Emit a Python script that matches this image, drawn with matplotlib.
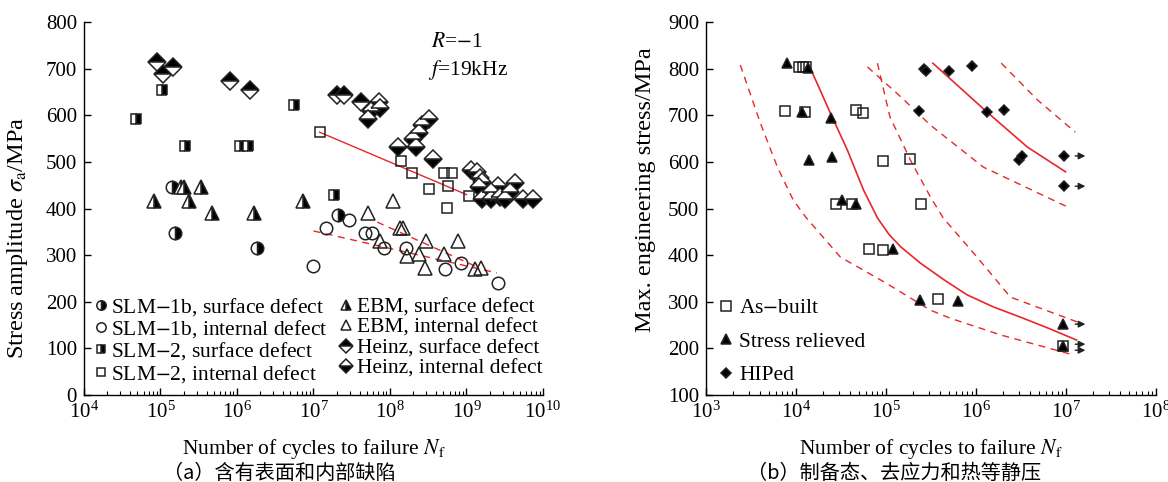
import numpy as np
import matplotlib.pyplot as plt
from matplotlib.ticker import LogLocator, NullFormatter, FixedLocator

plt.rcParams['font.family'] = ['Liberation Serif', 'Noto Sans CJK SC']
plt.rcParams['mathtext.fontset'] = 'stix'

# (a) dane - liczba cykli i amplituda naprężenia [MPa]
slm1b_surf_N = [1.4e5, 1.55e5, 1.85e6, 2.1e7]
slm1b_surf_S = [446, 348, 315, 386]
slm1b_int_N = [1.0e7, 1.45e7, 2.9e7, 4.7e7, 5.9e7, 8.3e7, 1.6e8, 5.2e8, 8.5e8, 2.6e9]
slm1b_int_S = [277, 358, 375, 347, 347, 315, 315, 270, 283, 240]
slm2_surf_N = [4.8e4, 1.05e5, 2.1e5, 1.1e6, 1.4e6, 5.6e6, 1.85e7]
slm2_surf_S = [592, 654, 535, 535, 535, 622, 429]
slm2_int_N = [1.2e7, 1.4e8, 1.95e8, 5.1e8, 6.5e8, 3.2e8, 5.8e8, 1.07e9, 5.6e8]
slm2_int_S = [564, 502, 476, 476, 476, 442, 448, 427, 401]
ebm_surf_N = [8.3e4, 1.85e5, 2.05e5, 3.4e5, 2.35e5, 4.7e5, 1.65e6, 7.2e6]
ebm_surf_S = [416, 446, 446, 446, 416, 390, 390, 416]
ebm_int_N = [1.1e8, 5.1e7, 1.35e8, 1.5e8, 7.4e7, 1.65e8, 2.95e8, 2.4e8, 2.9e8, 5.1e8, 7.8e8, 1.3e9, 1.55e9]
ebm_int_S = [416, 390, 358, 358, 330, 298, 330, 302, 272, 302, 330, 270, 272]
heinz_surf_N = [8.9e4, 1.07e5, 1.45e5, 8.1e5, 1.5e6, 2.05e7, 2.5e7, 4.2e7]
heinz_surf_S = [715, 689, 704, 674, 654, 644, 644, 629]
heinz_int_N = [7.2e7, 5.6e7, 7.4e7, 5.1e7, 1.26e8, 2.2e8, 2.0e8, 2.4e8, 2.6e8, 3.2e8, 3.6e8,
               1.15e9, 1.38e9, 1.5e9, 1.6e9, 1.45e9, 1.6e9, 2.1e9, 2.6e9, 2.1e9, 2.75e9,
               3.2e9, 3.7e9, 4.3e9, 5.4e9, 7.4e9]
heinz_int_S = [629, 609, 615, 592, 532, 532, 549, 562, 579, 592, 506,
               483, 479, 466, 457, 446, 421, 421, 448, 436, 425,
               421, 436, 455, 421, 421]
# linie trendu
fit_solid_N = [1.2e7, 1.0e9]
fit_solid_S = [564, 430]
fit_dash1_N = [1.0e7, 2.5e9]
fit_dash1_S = [352, 262]
fit_dash2_N = [6.8e7, 1.5e9]
fit_dash2_S = [371, 272]

# (b) dane
asb_N = [1.07e4, 1.2e4, 1.29e4, 7.6e3, 1.26e4, 4.6e4, 5.5e4, 9.3e4, 1.86e5, 2.75e4, 4.2e4,
         2.45e5, 6.5e4, 9.3e4, 3.8e5, 9.3e6]
asb_S = [804, 804, 804, 709, 707, 712, 705, 602, 607, 510, 510, 510, 413, 411, 306, 205]
sr_N = [7.9e3, 1.35e4, 1.17e4, 2.45e4, 1.38e4, 2.5e4, 3.2e4, 4.6e4, 1.2e5, 2.4e5, 6.3e5, 9.3e6, 9.3e6]
sr_S = [812, 802, 707, 694, 604, 611, 518, 510, 413, 304, 302, 252, 205]
hip_N = [2.6e5, 2.8e5, 5.0e5, 8.9e5, 2.3e5, 1.32e6, 2.05e6, 3.0e6, 3.2e6, 9.5e6, 9.5e6]
hip_S = [800, 796, 796, 806, 709, 707, 712, 604, 613, 613, 548]
runout_S = [613, 548, 252, 209, 196]
runout_N0, runout_N1 = 1.17e7, 1.75e7

as_mean_N = [1.35e4, 1.7e4, 2.4e4, 3.7e4, 5.6e4, 8.0e4, 1.07e5, 1.45e5, 2.4e5, 4.4e5, 7.9e5,
             1.55e6, 3.1e6, 6.2e6, 1.3e7]
as_mean_S = [812, 770, 705, 626, 540, 480, 445, 418, 383, 347, 315, 289, 267, 244, 218]
as_lo_N = [2.4e3, 4.0e3, 6.2e3, 9.3e3, 1.3e4, 3.1e4, 1.0e5, 3.1e5, 5.1e5, 1.86e6, 1.2e7]
as_lo_S = [808, 684, 589, 518, 480, 396, 340, 282, 265, 229, 186]
as_hi_N = [8.0e4, 1.1e5, 1.86e5, 3.1e5, 4.3e5, 1.02e6, 2.4e6, 1.45e7]
as_hi_S = [812, 697, 604, 525, 480, 396, 310, 254]
hip_mean_N = [3.3e5, 1.32e6, 3.7e6, 9.8e6]
hip_mean_S = [812, 707, 632, 579]
hip_hi_N = [1.9e6, 4.8e6, 1.26e7]
hip_hi_S = [812, 733, 664]
hip_lo_N = [6.2e4, 1.45e5, 3.1e5, 1.2e6, 1.1e7]
hip_lo_S = [804, 740, 679, 589, 501]

red = '#e8262b'
ec = '#222222'
fs_tick = 15
fs_lab = 15.5
fs_ylab = 17.5
fs_leg = 15.5

fig = plt.figure(figsize=(11.68, 4.82), dpi=100)
ax1 = fig.add_axes([0.0719, 0.1805, 0.393, 0.7735])
ax2 = fig.add_axes([0.6045, 0.1805, 0.3855, 0.7735])


def styl(ax, xlo, xhi, ylo, yhi, ystep):
    ax.set_xscale('log')
    ax.set_xlim(xlo, xhi)
    ax.set_ylim(ylo, yhi)
    ax.spines['top'].set_visible(False)
    ax.spines['right'].set_visible(False)
    ax.xaxis.set_major_locator(LogLocator(base=10, numticks=20))
    ax.xaxis.set_minor_locator(LogLocator(base=10, subs=np.arange(2, 10), numticks=20))
    ax.xaxis.set_minor_formatter(NullFormatter())
    ax.yaxis.set_major_locator(FixedLocator(np.arange(ylo, yhi + 1, ystep)))
    ax.tick_params(which='major', direction='in', length=5, width=1, labelsize=fs_tick, pad=5)
    ax.tick_params(which='minor', direction='in', length=3, width=0.8)
    for s in ax.spines.values():
        s.set_linewidth(1)


styl(ax1, 1e4, 1e10, 0, 800, 100)
styl(ax2, 1e3, 1e8, 100, 900, 100)

mk = dict(linestyle='none', markeredgecolor=ec, markeredgewidth=1.1,
          markerfacecolor='black', markerfacecoloralt='white')

ax1.plot(fit_solid_N, fit_solid_S, color=red, lw=1)
ax1.plot(fit_dash1_N, fit_dash1_S, color=red, lw=1, dashes=(5, 4))
ax1.plot(fit_dash2_N, fit_dash2_S, color=red, lw=1, dashes=(5, 4))

ax1.plot(slm1b_surf_N, slm1b_surf_S, marker='o', ms=9, fillstyle='right', label='SLM$-$1b, surface defect', **mk)
ax1.plot(slm1b_int_N, slm1b_int_S, marker='o', ms=9, fillstyle='none', label='SLM$-$1b, internal defect', **mk)
ax1.plot(slm2_surf_N, slm2_surf_S, marker='s', ms=7.5, fillstyle='right', label='SLM$-$2, surface defect', **mk)
ax1.plot(slm2_int_N, slm2_int_S, marker='s', ms=7.5, fillstyle='none', label='SLM$-$2, internal defect', **mk)
ax1.plot(ebm_surf_N, ebm_surf_S, marker='^', ms=9.5, fillstyle='right', label='EBM, surface defect', **mk)
ax1.plot(ebm_int_N, ebm_int_S, marker='^', ms=9.5, fillstyle='none', label='EBM, internal defect', **mk)
ax1.plot(heinz_surf_N, heinz_surf_S, marker='D', ms=9, fillstyle='top', label='Heinz, surface defect', **mk)
ax1.plot(heinz_int_N, heinz_int_S, marker='D', ms=9, fillstyle='bottom', label='Heinz, internal defect', **mk)

ax1.legend(loc='lower left', bbox_to_anchor=(-0.013, -0.013), ncol=2, frameon=False, fontsize=fs_leg,
           handlelength=0.7, handletextpad=0.15, columnspacing=0.5, labelspacing=0.02,
           borderaxespad=0.3, markerscale=0.75)

ax1.text(0.757, 0.933, '$\\mathit{R}$=$-$1', transform=ax1.transAxes, fontsize=fs_lab)
ax1.text(0.75, 0.858, '$\\mathit{f}$=19kHz', transform=ax1.transAxes, fontsize=fs_lab)

ax1.set_xlabel('Number of cycles to failure $\\mathit{N}_\\mathrm{f}$', fontsize=fs_lab, labelpad=10)
ax1.set_ylabel('Stress amplitude $\\mathit{\\sigma}_\\mathrm{a}$/MPa', fontsize=fs_ylab)
ax1.yaxis.set_label_coords(-0.118, 0.42)

# (b)
for xs, ys in [(as_lo_N, as_lo_S), (as_hi_N, as_hi_S), (hip_hi_N, hip_hi_S), (hip_lo_N, hip_lo_S)]:
    ax2.plot(xs, ys, color=red, lw=1, dashes=(5, 4))
ax2.plot(as_mean_N, as_mean_S, color=red, lw=1.2)
ax2.plot(hip_mean_N, hip_mean_S, color=red, lw=1.2)

ax2.plot(asb_N, asb_S, marker='s', ms=7, fillstyle='none', label='As$-$built', **mk)
ax2.plot(sr_N, sr_S, marker='^', ms=7, label='Stress relieved', **mk)
ax2.plot(hip_N, hip_S, marker='D', ms=5.5, label='HIPed', **mk)

for s in runout_S:
    ax2.annotate('', xy=(runout_N1, s), xytext=(runout_N0, s),
                 arrowprops=dict(arrowstyle='-|>', color=ec, lw=1, mutation_scale=10))

ax2.legend(loc='lower left', bbox_to_anchor=(-0.005, -0.014), frameon=False, fontsize=fs_leg,
           handlelength=0.7, handletextpad=0.25, labelspacing=0.62, borderaxespad=0.3)

ax2.set_xlabel('Number of cycles to failure $\\mathit{N}_\\mathrm{f}$', fontsize=fs_lab, labelpad=10)
ax2.set_ylabel('Max. engineering stress/MPa', fontsize=fs_ylab)
ax2.yaxis.set_label_coords(-0.111, 0.55)

fig.text(0.2395, 0.018, '（a）含有表面和内部缺陷', fontsize=14.5, ha='center', va='center',
         family=['Noto Sans CJK SC'])
fig.text(0.7655, 0.018, '（b）制备态、去应力和热等静压', fontsize=14.5, ha='center', va='center',
         family=['Noto Sans CJK SC'])

fig.savefig('out.png', dpi=100)
